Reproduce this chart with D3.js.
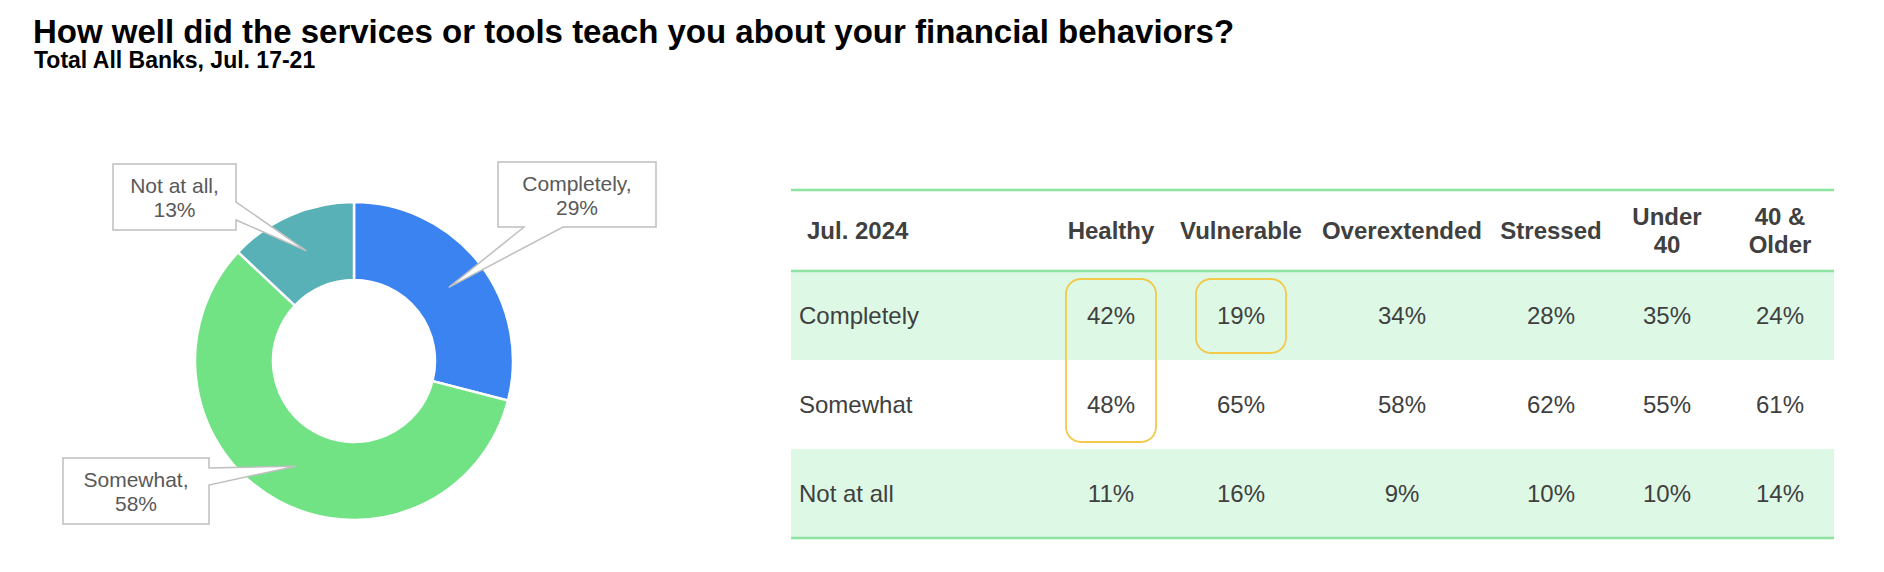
<!DOCTYPE html>
<html>
<head>
<meta charset="utf-8">
<script src="https://cdn.jsdelivr.net/npm/d3@7/dist/d3.min.js"></script>
<style>
  html, body { margin: 0; padding: 0; background: #fff; }
  svg { display: block; }
  text { font-family: "Liberation Sans", Arial, sans-serif; }
</style>
</head>
<body>
<svg id="chart" width="1884" height="572"></svg>
<script>
// ---------------- DATA ----------------
const titleText = "How well did the services or tools teach you about your financial behaviors?";
const subtitleText = "Total All Banks, Jul. 17-21";

const donutLabels = ["Completely", "Somewhat", "Not at all"];
const donutValues = [29, 58, 13];

const tableCorner = "Jul. 2024";
const tableColumns = ["Healthy", "Vulnerable", "Overextended", "Stressed", "Under 40", "40 & Older"];
const tableRows = ["Completely", "Somewhat", "Not at all"];
const completelyValues = [42, 19, 34, 28, 35, 24];
const somewhatValues   = [48, 65, 58, 62, 55, 61];
const notAtAllValues   = [11, 16, 9, 10, 10, 14];
const highlights = [
  { col: "Healthy", from: "Completely", to: "Somewhat" },
  { col: "Vulnerable", from: "Completely", to: "Completely" }
];

// ---------------- LAYOUT / STYLE ----------------
const colors = { "Completely": "#3B83F1", "Somewhat": "#72E385", "Not at all": "#57B1B6" };
const headerLines = { "Under 40": ["Under", "40"], "40 & Older": ["40 &", "Older"] };

const svg = d3.select("#chart");

svg.append("text").attr("x", 33).attr("y", 43)
  .attr("font-size", 33).attr("font-weight", "bold").attr("fill", "#000")
  .text(titleText);
svg.append("text").attr("x", 34).attr("y", 68)
  .attr("font-size", 23).attr("font-weight", "bold").attr("fill", "#000")
  .text(subtitleText);

// ---------------- DONUT ----------------
const cx = 354, cy = 361, rOuter = 159, rInner = 81;
const pie = d3.pie().sort(null).value(d => d.value);
const arcs = pie(donutLabels.map((l, i) => ({ label: l, value: donutValues[i] })));
const arc = d3.arc().innerRadius(rInner).outerRadius(rOuter);

const g = svg.append("g").attr("transform", `translate(${cx},${cy})`);
g.selectAll("path.slice").data(arcs).join("path")
  .attr("class", "slice")
  .attr("d", arc)
  .attr("fill", d => colors[d.data.label])
  .attr("stroke", "#fff").attr("stroke-width", 2.5);

// callout boxes (absolute page coordinates)
const calloutLayout = {
  "Completely": { x0: 498, y0: 162, x1: 656, y1: 227, side: "bottom", a: 524, b: 563 },
  "Somewhat":   { x0: 63,  y0: 458, x1: 209, y1: 524, side: "right",  a: 468, b: 485 },
  "Not at all": { x0: 113, y0: 164, x1: 236, y1: 230, side: "right",  a: 202, b: 220 }
};

function calloutPath(L, tx, ty) {
  if (L.side === "right") {
    return `M${L.x0},${L.y0}L${L.x1},${L.y0}L${L.x1},${L.a}L${tx},${ty}L${L.x1},${L.b}L${L.x1},${L.y1}L${L.x0},${L.y1}Z`;
  }
  return `M${L.x0},${L.y0}L${L.x1},${L.y0}L${L.x1},${L.y1}L${L.b},${L.y1}L${tx},${ty}L${L.a},${L.y1}L${L.x0},${L.y1}Z`;
}

const callouts = svg.append("g");
arcs.forEach(d => {
  const L = calloutLayout[d.data.label];
  const c = arc.centroid(d);
  const tx = cx + c[0], ty = cy + c[1];
  callouts.append("path")
    .attr("d", calloutPath(L, tx, ty))
    .attr("fill", "#fff").attr("stroke", "#BFBFBF").attr("stroke-width", 1.5);
  const mx = (L.x0 + L.x1) / 2, my = (L.y0 + L.y1) / 2;
  const t = callouts.append("text").attr("text-anchor", "middle")
    .attr("font-size", 21).attr("fill", "#595959");
  t.append("tspan").attr("x", mx).attr("y", my - 4).text(d.data.label + ",");
  t.append("tspan").attr("x", mx).attr("y", my + 20).text(d.data.value + "%");
});

// ---------------- TABLE ----------------
const tableLeft = 791, tableRight = 1834;
const headerTop = 190, headerBottom = 271, tableBottom = 538;
const colWidths = [255, 130, 130, 192, 106, 126, 100];
const colCenters = {};
{
  let x = tableLeft + colWidths[0];
  tableColumns.forEach((c, i) => { colCenters[c] = x + colWidths[i + 1] / 2; x += colWidths[i + 1]; });
}
const xCol = d3.scaleOrdinal().domain(tableColumns).range(tableColumns.map(c => colCenters[c]));
const yRow = d3.scaleBand().domain(tableRows).range([headerBottom, tableBottom]).padding(0);
const rowValues = { "Completely": completelyValues, "Somewhat": somewhatValues, "Not at all": notAtAllValues };

const tg = svg.append("g");
// banded rows
tg.selectAll("rect.band").data(tableRows.filter((r, i) => i % 2 === 0)).join("rect")
  .attr("class", "band")
  .attr("x", tableLeft).attr("width", tableRight - tableLeft)
  .attr("y", d => yRow(d)).attr("height", yRow.bandwidth())
  .attr("fill", "#DEF8E6");

// lines
[headerTop, headerBottom, tableBottom].forEach(y => {
  tg.append("line").attr("x1", tableLeft).attr("x2", tableRight)
    .attr("y1", y).attr("y2", y)
    .attr("stroke", "#8DE4A1").attr("stroke-width", 2.5);
});

const textColor = "#404040";
// header
tg.append("text").attr("x", 807).attr("y", 239)
  .attr("font-size", 24).attr("font-weight", "bold").attr("fill", textColor)
  .text(tableCorner);
tableColumns.forEach(c => {
  const t = tg.append("text").attr("text-anchor", "middle")
    .attr("font-size", 24).attr("font-weight", "bold").attr("fill", textColor);
  const lines = headerLines[c];
  if (lines) {
    t.append("tspan").attr("x", xCol(c)).attr("y", 225).text(lines[0]);
    t.append("tspan").attr("x", xCol(c)).attr("y", 253).text(lines[1]);
  } else {
    t.attr("x", xCol(c)).attr("y", 239).text(c);
  }
});

// rows
tableRows.forEach(r => {
  const yc = yRow(r) + yRow.bandwidth() / 2 + 8.6;
  tg.append("text").attr("x", 799).attr("y", yc)
    .attr("font-size", 24).attr("fill", textColor).text(r);
  tableColumns.forEach((c, i) => {
    tg.append("text").attr("x", xCol(c)).attr("y", yc)
      .attr("text-anchor", "middle").attr("font-size", 24).attr("fill", textColor)
      .text(rowValues[r][i] + "%");
  });
});

// highlight boxes
tg.selectAll("rect.hl").data(highlights).join("rect")
  .attr("class", "hl")
  .attr("x", d => xCol(d.col) - 45).attr("width", 90)
  .attr("y", d => yRow(d.from) + 8)
  .attr("height", d => yRow(d.to) + yRow.bandwidth() - 7 - (yRow(d.from) + 8))
  .attr("rx", 15).attr("ry", 15)
  .attr("fill", "none").attr("stroke", "#F3C94A").attr("stroke-width", 1.8);
</script>
</body>
</html>
